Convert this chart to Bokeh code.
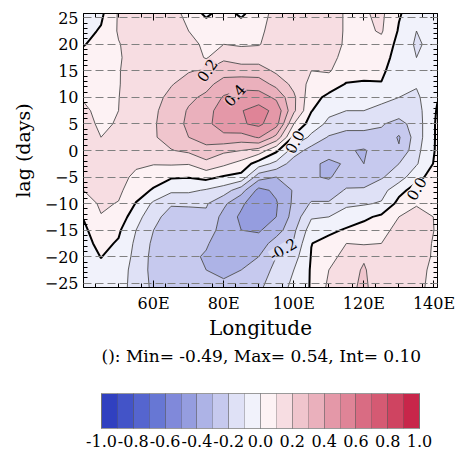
import numpy as np
from bokeh.plotting import figure
from bokeh.models import (FixedTicker, LinearAxis, PrintfTickFormatter, Range1d,
                          ColorBar, LinearColorMapper, AllLabels)
from bokeh.core.properties import value
from bokeh.embed import file_html
from bokeh.resources import INLINE

FONT = "DejaVu Serif"

# ---------------- data ----------------
lons = [40, 45, 50, 55, 60, 65, 70, 75, 80, 85, 90, 95, 100, 105, 110, 115, 120, 125, 130, 135, 141]
# lags from top (25.8) to bottom (-25.8)
lags_top_down = [25.8, 22.5, 20.0, 17.5, 15.0, 12.5, 10.0, 7.5, 5.0, 2.5, 0.0,
                 -2.5, -5.0, -7.5, -10.0, -12.5, -15.0, -17.5, -20.0, -22.5, -25.8]

# correlation values, one list per longitude, ordered like lags_top_down
lon40 = [-0.06, -0.03, -0.005, 0.03, 0.05, 0.07, 0.095, 0.11, 0.12, 0.13, 0.14, 0.14, 0.13, 0.10, 0.05, 0.005, -0.02, -0.03, -0.04, -0.04, -0.05]
lon45 = [-0.02, 0.01, 0.03, 0.05, 0.06, 0.07, 0.08, 0.085, 0.09, 0.10, 0.115, 0.125, 0.13, 0.125, 0.115, 0.095, 0.06, 0.025, 0.002, -0.015, -0.025]
lon50 = [0.11, 0.11, 0.095, 0.09, 0.095, 0.095, 0.098, 0.10, 0.105, 0.105, 0.11, 0.125, 0.13, 0.12, 0.095, 0.06, 0.015, -0.01, -0.03, -0.05, -0.06]
lon55 = [0.13, 0.135, 0.14, 0.14, 0.14, 0.145, 0.15, 0.155, 0.16, 0.16, 0.15, 0.115, 0.08, 0.04, -0.005, -0.06, -0.10, -0.12, -0.13, -0.14, -0.14]
lon60 = [0.14, 0.145, 0.15, 0.155, 0.16, 0.165, 0.175, 0.185, 0.19, 0.19, 0.17, 0.105, 0.04, -0.01, -0.12, -0.17, -0.20, -0.22, -0.23, -0.23, -0.22]
lon65 = [0.15, 0.16, 0.165, 0.17, 0.18, 0.195, 0.22, 0.24, 0.25, 0.24, 0.195, 0.11, 0.01, -0.08, -0.19, -0.24, -0.26, -0.28, -0.28, -0.28, -0.26]
lon70 = [0.06, 0.10, 0.13, 0.16, 0.195, 0.23, 0.28, 0.31, 0.32, 0.30, 0.22, 0.105, 0.005, -0.08, -0.19, -0.23, -0.25, -0.27, -0.28, -0.28, -0.27]
lon75 = [-0.02, 0.06, 0.08, 0.09, 0.21, 0.27, 0.32, 0.37, 0.38, 0.34, 0.27, 0.17, 0.03, -0.11, -0.19, -0.22, -0.25, -0.29, -0.31, -0.30, -0.28]
lon80 = [0.04, 0.07, 0.10, 0.18, 0.26, 0.34, 0.41, 0.44, 0.44, 0.38, 0.22, 0.12, -0.01, -0.15, -0.28, -0.33, -0.34, -0.35, -0.35, -0.32, -0.28]
lon85 = [-0.02, 0.06, 0.09, 0.15, 0.25, 0.36, 0.45, 0.495, 0.49, 0.36, 0.20, 0.065, -0.03, -0.26, -0.38, -0.42, -0.40, -0.37, -0.34, -0.30, -0.26]
lon90 = [0.06, 0.08, 0.095, 0.15, 0.25, 0.35, 0.45, 0.54, 0.52, 0.41, 0.16, -0.05, -0.26, -0.43, -0.48, -0.45, -0.41, -0.36, -0.30, -0.26, -0.22]
lon95 = [0.13, 0.14, 0.14, 0.15, 0.18, 0.27, 0.38, 0.47, 0.44, 0.27, 0.02, -0.13, -0.30, -0.38, -0.41, -0.40, -0.35, -0.25, -0.20, -0.17, -0.14]
lon100 = [0.13, 0.14, 0.14, 0.15, 0.15, 0.17, 0.22, 0.22, 0.10, -0.02, -0.15, -0.25, -0.28, -0.29, -0.28, -0.26, -0.22, -0.19, -0.14, -0.10, -0.08]
lon105 = [0.14, 0.14, 0.13, 0.12, 0.10, 0.07, 0.03, 0.005, -0.05, -0.12, -0.24, -0.28, -0.29, -0.25, -0.19, -0.11, -0.05, -0.002, 0.005, 0.01, 0.01]
lon110 = [0.14, 0.14, 0.13, 0.12, 0.11, 0.04, -0.02, -0.08, -0.12, -0.21, -0.26, -0.32, -0.31, -0.25, -0.19, -0.10, -0.02, 0.03, 0.07, 0.10, 0.12]
lon115 = [0.09, 0.09, 0.09, 0.08, 0.04, -0.005, -0.05, -0.10, -0.17, -0.23, -0.29, -0.29, -0.25, -0.19, -0.12, -0.05, 0.01, 0.10, 0.13, 0.16, 0.17]
lon120 = [0.09, 0.08, 0.08, 0.06, 0.03, -0.01, -0.05, -0.10, -0.18, -0.22, -0.31, -0.30, -0.24, -0.19, -0.11, -0.02, 0.04, 0.09, 0.19, 0.21, 0.22]
lon125 = [0.12, 0.11, 0.07, 0.04, 0.02, -0.005, -0.08, -0.12, -0.19, -0.23, -0.25, -0.25, -0.21, -0.14, -0.09, 0.02, 0.07, 0.10, 0.13, 0.14, 0.14]
lon130 = [0.01, -0.01, -0.03, -0.04, -0.06, -0.07, -0.10, -0.14, -0.24, -0.31, -0.29, -0.20, -0.15, -0.03, 0.03, 0.10, 0.13, 0.14, 0.14, 0.14, 0.13]
lon135 = [-0.06, -0.10, -0.115, -0.10, -0.08, -0.09, -0.12, -0.14, -0.15, -0.15, -0.13, -0.11, -0.03, 0.04, 0.09, 0.14, 0.15, 0.15, 0.14, 0.13, 0.12]
lon141 = [-0.03, -0.06, -0.06, -0.05, -0.04, -0.04, -0.005, 0.01, 0.02, 0.02, 0.02, 0.03, 0.05, 0.07, 0.08, 0.09, 0.09, 0.08, 0.08, 0.07, 0.07]

corr_by_lon = [lon40, lon45, lon50, lon55, lon60, lon65, lon70, lon75, lon80, lon85, lon90,
               lon95, lon100, lon105, lon110, lon115, lon120, lon125, lon130, lon135, lon141]

levels = [-1.0, -0.9, -0.8, -0.7, -0.6, -0.5, -0.4, -0.3, -0.2, -0.1, 0.0,
          0.1, 0.2, 0.3, 0.4, 0.5, 0.6, 0.7, 0.8, 0.9, 1.0]
palette = ["#3040c0", "#4354c8", "#5565cf", "#6777d4", "#8089da", "#959ddf", "#adb3e6",
           "#c6c9ee", "#dfe1f6", "#f1f2fb", "#fdf2f4", "#f7dde2", "#f0c5cd", "#eab0bc",
           "#e498a8", "#df8497", "#d96c83", "#d55a73", "#cf4461", "#c8264a"]

ytick_vals = [-25, -20, -15, -10, -5, 0, 5, 10, 15, 20, 25]
ytick_minor = [-25, -24, -23, -22, -21, -20, -19, -18, -17, -16, -15, -14, -13, -12, -11, -10, -9, -8, -7, -6,
               -5, -4, -3, -2, -1, 0, 1, 2, 3, 4, 5, 6, 7, 8, 9, 10, 11, 12, 13, 14, 15, 16, 17, 18, 19, 20,
               21, 22, 23, 24, 25]
xtick_vals = [60, 80, 100, 120, 140]
xtick_labels = ["60E", "80E", "100E", "120E", "140E"]
xtick_minor = [43.33, 50, 56.67, 63.33, 70, 76.67, 83.33, 90, 96.67, 103.33, 110, 116.67, 123.33, 130, 136.67]
cbar_ticks = [-1.0, -0.8, -0.6, -0.4, -0.2, 0.0, 0.2, 0.4, 0.6, 0.8, 1.0]

label_text = ["0.2", "0.4", "0.0", "0.0", "-0.2"]
label_lon = [75.3, 83.2, 100.3, 135.0, 96.9]
label_lag = [15.1, 10.4, 1.6, -7.2, -18.6]
label_angle = [55, 48, 62, 60, 30]
label_bg = ["#f4d2d8", "#eab4bf", "#f6f0f6", "#f8f3f7", "#d9dcf4"]

stats_text = "(): Min= -0.49, Max= 0.54, Int= 0.10"

# ---------------- figure ----------------
Z = np.array(corr_by_lon).T[::-1]
lag_asc = lags_top_down[::-1]

p = figure(width=460, height=458, x_range=Range1d(40, 141), y_range=Range1d(-25.8, 25.8),
           output_backend="svg", toolbar_location=None,
           min_border_left=83, min_border_right=23, min_border_top=13, min_border_bottom=171)
p.background_fill_color = "white"
p.border_fill_color = "white"
p.outline_line_color = "black"
p.outline_line_width = 1

line_colors = ["#4a4a4a"] * len(levels)
line_colors[10] = "black"
line_widths = [0.9] * len(levels)
line_widths[10] = 2.0

cr = p.contour(x=lons, y=lag_asc, z=Z, levels=levels, fill_color=palette,
               line_color=line_colors, line_width=line_widths)

# grid
p.xgrid.visible = False
p.ygrid.grid_line_color = "#808080"
p.ygrid.grid_line_dash = "8 4"
p.ygrid.grid_line_width = 1
p.ygrid.level = "overlay"

# axes
yt = FixedTicker(ticks=ytick_vals, minor_ticks=ytick_minor)
xt = FixedTicker(ticks=xtick_vals, minor_ticks=xtick_minor)
p.yaxis.ticker = yt
p.xaxis.ticker = xt
p.ygrid.ticker = yt
p.xaxis.major_label_overrides = {v: s for v, s in zip(xtick_vals, xtick_labels)}

for ax in (p.xaxis[0], p.yaxis[0]):
    ax.major_tick_in = 7
    ax.major_tick_out = 0
    ax.minor_tick_in = 4
    ax.minor_tick_out = 0
    ax.axis_line_color = "black"
    ax.major_tick_line_color = "black"
    ax.minor_tick_line_color = "black"
    ax.major_label_text_font = FONT
    ax.major_label_text_font_size = "16px"
    ax.major_label_text_color = "black"
    ax.axis_label_text_font = FONT
    ax.axis_label_text_font_style = "normal"
    ax.axis_label_text_color = "black"

p.xaxis.axis_label = "Longitude"
p.xaxis.axis_label_text_font_size = "20px"
p.xaxis.major_label_standoff = 6
p.xaxis.axis_label_standoff = 0
p.yaxis.axis_label = "lag (days)"
p.yaxis.axis_label_text_font_size = "19px"
p.yaxis.major_label_standoff = 5
p.yaxis.axis_label_standoff = 8

for loc, tk in (("right", yt), ("above", xt)):
    ax = LinearAxis(ticker=tk, major_label_text_font_size="1px", major_label_text_color=None,
                    major_tick_in=7, major_tick_out=0,
                    minor_tick_in=4, minor_tick_out=0, axis_line_color="black",
                    major_label_standoff=0)
    p.add_layout(ax, loc)

# contour labels
p.text(x=label_lon, y=label_lag, text=label_text, angle=label_angle, angle_units="deg",
       text_align="center", text_baseline="middle", text_font=value(FONT),
       text_font_size="15px", text_color="black",
       background_fill_color=label_bg, padding=0)

# colour bar, with the statistics line as its title
mapper = LinearColorMapper(palette=palette, low=-1.0, high=1.0)
cb = ColorBar(color_mapper=mapper, orientation="horizontal", width=318, height=35,
              padding=0, margin=0,
              ticker=FixedTicker(ticks=cbar_ticks, minor_ticks=levels),
              formatter=PrintfTickFormatter(format="%.1f"),
              major_label_policy=AllLabels(),
              major_label_text_font=FONT, major_label_text_font_size="16px",
              major_label_text_color="black",
              major_tick_in=35, major_tick_out=0, minor_tick_in=35, minor_tick_out=0,
              major_tick_line_color="#555555", major_tick_line_alpha=0.35,
              minor_tick_line_color="#555555", minor_tick_line_alpha=0.35,
              bar_line_color="#9a9a9a", label_standoff=6,
              title=stats_text, title_text_font=FONT, title_text_font_size="17px",
              title_text_font_style="normal", title_text_color="black", title_standoff=55,
              background_fill_alpha=0, location=(18, -162))
p.add_layout(cb, "center")

open("out.html", "w").write(file_html(p, INLINE))
